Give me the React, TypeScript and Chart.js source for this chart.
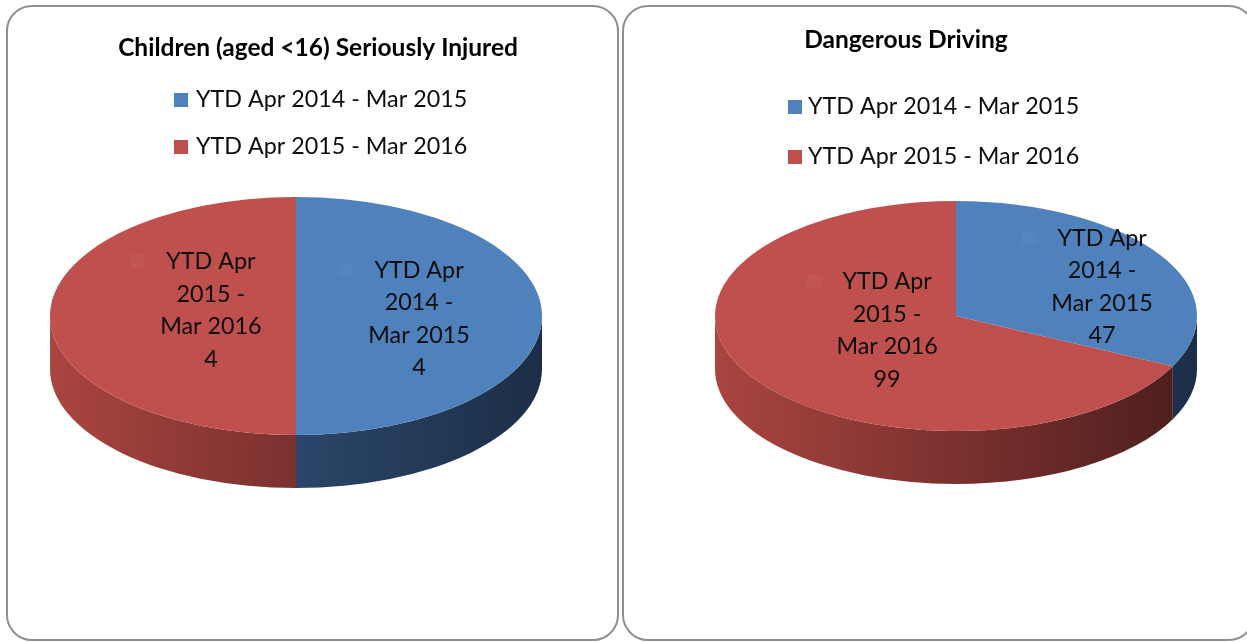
import React, { useEffect, useRef } from "react";
import { Chart, registerables } from "chart.js";

Chart.register(...registerables);

// ---------- data ----------
const categories = ["YTD Apr 2014 - Mar 2015", "YTD Apr 2015 - Mar 2016"];
const categoryLines = [
  ["YTD Apr", "2014 -", "Mar 2015"],
  ["YTD Apr", "2015 -", "Mar 2016"],
];
const childrenInjured = [4, 4];
const dangerousDriving = [47, 99];
const chartTitles = ["Children (aged <16) Seriously Injured", "Dangerous Driving"];

// ---------- styles ----------
const topColors = ["#4F81BD", "#C0504D"];
const sideColorsLeft = ["#3A5E8C", "#AA4540"];
const sideColorsRight = ["#1C2E47", "#4B1D1D"];
const FONT = "Lato, 'Noto Sans', sans-serif";
const W = 1247;
const H = 642;

type Spec = {
  title: string;
  values: number[];
  cx: number;
  cy: number;
  rx: number;
  ry: number;
  depth: number;
  titleX: number;
  titleBaseline: number;
  legendBoxX: number;
  legendTextX: number;
  legendBaselines: number[];
  labelPos: number[][];
};

const specs: Spec[] = [
  {
    title: chartTitles[0],
    values: childrenInjured,
    cx: 296,
    cy: 316,
    rx: 246,
    ry: 119,
    depth: 53,
    titleX: 318,
    titleBaseline: 56,
    legendBoxX: 174,
    legendTextX: 196,
    legendBaselines: [107, 154],
    labelPos: [
      [0.5, 0.021],
      [-0.346, -0.05],
    ],
  },
  {
    title: chartTitles[1],
    values: dangerousDriving,
    cx: 956,
    cy: 316,
    rx: 241,
    ry: 115,
    depth: 53,
    titleX: 906,
    titleBaseline: 48,
    legendBoxX: 788,
    legendTextX: 808,
    legendBaselines: [114, 164],
    labelPos: [
      [0.606, -0.257],
      [-0.286, 0.122],
    ],
  },
];

const LINE_H = 32.4;
const LABEL_FONT = `23.3px ${FONT}`;
const TITLE_FONT = `bold 24.5px ${FONT}`;

const pie3d = {
  id: "pie3d",
  beforeDatasetsDraw(chart: any, _a: any, opts: any) {
    const ctx: CanvasRenderingContext2D = chart.ctx;
    const arcs = chart.getDatasetMeta(0).data as any[];
    if (!arcs.length) return;
    const cx = arcs[0].x;
    const cy = arcs[0].y;
    const rx = arcs[0].outerRadius;
    const ry = opts.ry;
    const depth = opts.depth;
    arcs.forEach((arc: any, i: number) => {
      const s0 = arc.startAngle;
      const e0 = arc.endAngle;
      for (let k = -1; k <= 1; k++) {
        const s = Math.max(s0, 2 * Math.PI * k);
        const e = Math.min(e0, Math.PI + 2 * Math.PI * k);
        if (e <= s) continue;
        const g = ctx.createLinearGradient(cx - rx, 0, cx + rx, 0);
        g.addColorStop(0, sideColorsLeft[i]);
        g.addColorStop(1, sideColorsRight[i]);
        ctx.beginPath();
        ctx.ellipse(cx, cy, rx, ry, 0, s, e);
        ctx.ellipse(cx, cy + depth, rx, ry, 0, e, s, true);
        ctx.closePath();
        ctx.fillStyle = g;
        ctx.fill();
      }
    });
    ctx.save();
    ctx.translate(cx, cy);
    ctx.scale(1, ry / rx);
    ctx.translate(-cx, -cy);
  },
  afterDatasetsDraw(chart: any, _a: any, opts: any) {
    const ctx: CanvasRenderingContext2D = chart.ctx;
    ctx.restore();
    const arcs = chart.getDatasetMeta(0).data as any[];
    if (!arcs.length) return;
    const cx = arcs[0].x;
    const cy = arcs[0].y;
    const rx = arcs[0].outerRadius;
    const ry = opts.ry;
    const values = chart.data.datasets[0].data as number[];
    ctx.save();
    ctx.font = LABEL_FONT;
    ctx.textAlign = "center";
    ctx.textBaseline = "alphabetic";
    values.forEach((v, i) => {
      const lines = [...categoryLines[i], String(v)];
      const lx = cx + opts.labelPos[i][0] * rx;
      const ly = cy + opts.labelPos[i][1] * ry;
      const y0 = ly - ((lines.length - 1) * LINE_H) / 2;
      // faint legend key
      ctx.fillStyle = "rgba(255,255,255,0.04)";
      ctx.fillRect(lx - 80, y0 - 7, 14, 14);
      ctx.fillStyle = "#0d0d0d";
      lines.forEach((t, j) => {
        ctx.fillText(t, lx, y0 + j * LINE_H + 8);
      });
    });
    ctx.restore();
  },
  afterDraw(chart: any, _a: any, opts: any) {
    const ctx: CanvasRenderingContext2D = chart.ctx;
    ctx.save();
    ctx.textBaseline = "alphabetic";
    ctx.fillStyle = "#000000";
    ctx.font = TITLE_FONT;
    ctx.textAlign = "center";
    ctx.fillText(opts.title, opts.titleX, opts.titleBaseline);
    ctx.font = LABEL_FONT;
    ctx.textAlign = "left";
    const labels = chart.data.labels as string[];
    labels.forEach((lab, i) => {
      const b = opts.legendBaselines[i];
      ctx.fillStyle = topColors[i];
      ctx.fillRect(opts.legendBoxX, b - 14, 14, 14);
      ctx.fillStyle = "#0d0d0d";
      ctx.fillText(lab, opts.legendTextX, b);
    });
    ctx.restore();
  },
};

function PieCanvas({ spec }: { spec: Spec }) {
  const ref = useRef<HTMLCanvasElement>(null);
  useEffect(() => {
    if (!ref.current) return;
    const halfX = Math.min(spec.cx, W - spec.cx);
    const halfY = Math.min(spec.cy, H - spec.cy);
    const chart = new Chart(ref.current, {
      type: "pie",
      data: {
        labels: categories,
        datasets: [
          {
            data: spec.values,
            backgroundColor: topColors,
            borderWidth: 0,
            hoverOffset: 0,
            clip: false,
          } as any,
        ],
      },
      options: {
        responsive: false,
        animation: false,
        events: [],
        radius: spec.rx,
        layout: {
          padding: {
            left: spec.cx - halfX,
            right: W - (spec.cx + halfX),
            top: spec.cy - halfY,
            bottom: H - (spec.cy + halfY),
          },
        },
        plugins: {
          legend: { display: false },
          title: { display: false },
          tooltip: { enabled: false },
          pie3d: spec,
        } as any,
      } as any,
      plugins: [pie3d as any],
    });
    return () => chart.destroy();
  }, [spec]);
  return (
    <canvas
      ref={ref}
      width={W}
      height={H}
      style={{ position: "absolute", left: 0, top: 0, width: W, height: H }}
    />
  );
}

export default function App() {
  const boxStyle: React.CSSProperties = {
    position: "absolute",
    top: 5,
    height: 636,
    boxSizing: "border-box",
    border: "2px solid #8f8f8f",
    borderRadius: 26,
    background: "#ffffff",
  };
  return (
    <div
      style={{
        position: "fixed",
        left: 0,
        top: 0,
        width: W,
        height: H,
        overflow: "hidden",
        background: "#ffffff",
      }}
    >
      <div style={{ ...boxStyle, left: 6, width: 613 }} />
      <div style={{ ...boxStyle, left: 622, width: 633 }} />
      {specs.map((s, i) => (
        <PieCanvas key={i} spec={s} />
      ))}
    </div>
  );
}
